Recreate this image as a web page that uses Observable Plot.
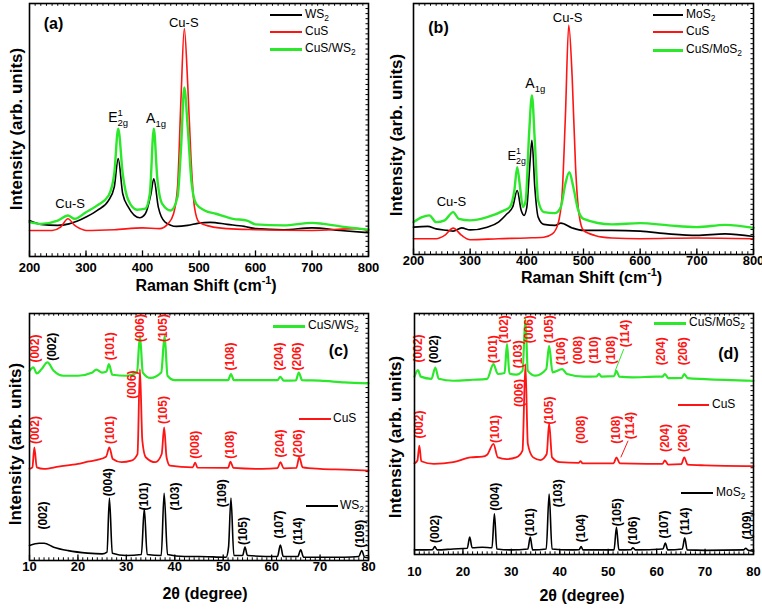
<!DOCTYPE html>
<html>
<head>
<meta charset="utf-8">
<script src="https://cdn.jsdelivr.net/npm/d3@7"></script>
<script src="https://cdn.jsdelivr.net/npm/@observablehq/plot@0.6"></script>
<style>
  html, body { margin: 0; padding: 0; background: #fff; }
  #fig { position: relative; width: 762px; height: 609px; overflow: hidden; background: #fff;
         font-family: "Liberation Sans", Arial, sans-serif; }
  .pane { position: absolute; }
  .lg-line { position: absolute; height: 2px; }
  .lg-text { position: absolute; font-size: 12px; line-height: 14px; color: #000; white-space: nowrap; }
  .lg-text sub { font-size: 70%; vertical-align: -3px; line-height: 0; }
</style>
</head>
<body>
<div id="fig"></div>
<script>
// ---------------- DATA ----------------
// Raman (a): x = Raman shift (cm-1), y = intensity (arb., 0-100 frame units)
const ramanTicks = [200, 300, 400, 500, 600, 700, 800];
const aWS2 = [[200,14.2],[220,12.7],[250,12.3],[270,12.9],[285,14.0],[300,15.6],[320,18.2],[340,22.2],[350,27.4],[357,38.7],[365,24.8],[375,19.5],[395,15.3],[405,16.9],[415,24.8],[420,30.7],[428,19.5],[440,13.6],[460,11.9],[480,12.3],[500,13.2],[520,13.5],[550,12.7],[580,11.9],[600,11.0],[650,10.6],[700,11.3],[750,10.3],[800,9.4]];
const aCuS = [[200,10.3],[240,10.3],[255,11.6],[268,14.9],[280,12.3],[290,11.0],[300,10.3],[350,10.6],[400,11.3],[430,11.0],[445,12.9],[455,16.9],[462,27.4],[468,61.7],[474,90.1],[480,68.3],[486,38.0],[492,19.5],[500,13.6],[520,11.9],[550,11.0],[600,10.6],[700,10.3],[780,11.0],[800,10.3]];
const aCuSWS2 = [[200,13.6],[220,12.9],[250,14.2],[268,16.2],[280,14.9],[300,17.5],[320,20.2],[340,24.1],[350,32.7],[357,50.5],[365,32.7],[375,22.2],[390,18.5],[405,18.9],[413,24.8],[420,50.5],[426,31.4],[435,20.8],[450,18.2],[462,23.5],[468,42.0],[474,66.8],[480,51.2],[487,28.8],[495,20.8],[510,18.2],[530,16.9],[560,14.9],[585,14.2],[600,12.7],[650,12.3],[700,13.3],[720,12.9],[760,11.6],[800,10.6]];
const aNotes = [["Cu-S",473,92.5,13],["E^{1}_{2g}",357,55,14],["A_{1g}",424,54.5,14],["Cu-S",272,21,13]];

// Raman (b)
const bMoS2 = [[200,10.9],[225,11.2],[240,10.2],[260,9.6],[270,9.3],[285,10.6],[300,9.8],[330,10.9],[350,12.9],[365,16.2],[375,18.9],[383,25.5],[390,17.6],[395,15.6],[400,18.9],[405,34.8],[409,45.5],[414,26.9],[420,14.9],[430,12.0],[450,11.6],[460,12.5],[480,10.6],[500,9.6],[550,9.6],[600,9.3],[650,8.2],[700,7.6],[750,8.2],[800,7.2]];
const bCuS = [[200,6.3],[240,6.3],[255,7.6],[270,10.5],[285,7.6],[300,5.9],[350,6.3],[400,6.6],[430,6.9],[445,8.2],[455,12.2],[462,22.9],[468,54.8],[474,91.4],[480,70.7],[486,34.8],[492,16.2],[500,9.6],[520,7.6],[550,6.6],[600,6.3],[700,6.6],[800,6.3]];
const bCuSMoS2 = [[200,12.9],[215,14.9],[228,15.6],[240,12.9],[255,13.6],[270,16.9],[280,14.2],[300,13.6],[330,14.9],[360,17.6],[370,18.9],[378,25.5],[383,34.8],[388,26.9],[393,18.9],[398,21.5],[404,48.1],[409,63.4],[414,45.5],[420,21.5],[430,16.9],[450,16.5],[460,18.9],[468,28.2],[475,32.8],[482,26.9],[490,18.2],[500,14.2],[550,12.0],[600,12.5],[650,11.6],[700,10.9],[750,11.8],[800,10.6]];
const bNotes = [["Cu-S",472,94.4,13],["A_{1g}",415,68.1,14],["E^{1}_{2g}",382,39.4,13],["Cu-S",267,20.8,13]];

// XRD (c): x = 2θ (degree)
const xrdTicks = [10, 20, 30, 40, 50, 60, 70, 80];
const cWS2 = [[10,6.1],[12,7.0],[13,7.0],[15,5.4],[18,4.0],[22,3.0],[25,2.7],[26,3.4],[26.5,25.3],[27.1,2.9],[30,2.0],[33.1,2.4],[33.7,20.9],[34.3,2.4],[37.2,2.0],[37.8,27.2],[38.5,2.4],[42,1.6],[45,1.6],[50.6,1.3],[51.1,5.4],[51.6,25.3],[52.2,2.0],[54,2.0],[54.5,5.4],[55,2.0],[61.2,1.6],[61.8,6.3],[62.4,1.6],[65.4,1.6],[66,4.3],[66.6,1.3],[70,1.3],[75,1.3],[78,1.6],[78.6,4.0],[79.2,1.3],[80,1.1]];
const cCuS = [[10,37.1],[10.6,37.7],[11,45.8],[11.5,37.7],[13,37.1],[16,38.0],[20,39.1],[22,40.0],[24,40.7],[25.8,42.0],[26.5,45.8],[27.2,41.1],[29,39.8],[31,40.4],[32.3,43.1],[32.8,77.5],[33.3,48.5],[34,41.8],[36,39.8],[37.3,43.1],[37.8,53.9],[38.3,41.8],[39,38.4],[43.7,37.7],[44.2,39.6],[44.7,37.6],[51,37.5],[51.5,40.0],[52.1,37.5],[58,37.1],[61.2,37.4],[61.8,39.8],[62.5,37.3],[65.1,37.5],[65.7,41.8],[66.4,37.7],[70,37.1],[75,36.8],[80,36.4]];
const cCuSWS2 = [[10,76.8],[10.8,78.2],[11.5,75.7],[12.5,77.5],[13.7,80.2],[15,76.8],[17,74.8],[20,74.8],[23,76.1],[23.8,77.3],[25,76.1],[25.9,76.5],[26.4,79.5],[27.1,75.2],[30,74.8],[32.2,76.1],[32.8,91.0],[33.4,76.1],[35,73.9],[37.2,76.1],[37.9,91.0],[38.5,74.8],[40,73.0],[45,73.0],[51,73.0],[51.6,75.5],[52.2,73.0],[58,73.0],[61.2,73.0],[61.8,74.4],[62.5,72.8],[65,72.9],[65.6,76.1],[66.3,73.0],[70,72.8],[75,72.1],[80,71.7]];
// [label, 2θ, label-centre intensity, phase]
const cHkl = [
  ["(002)",11.2,85.8,"CuS"],["(002)",14.6,86.5,"WS2"],["(101)",26.7,86.7,"CuS"],["(006)",32.8,94.1,"CuS"],["(105)",37.7,94.1,"CuS"],["(108)",51.4,82.6,"CuS"],["(204)",61.6,82.6,"CuS"],["(206)",65.2,82.6,"CuS"],
  ["(002)",11.2,52.8,"CuS"],["(101)",26.7,52.8,"CuS"],["(006)",31.1,71.2,"CuS"],["(105)",37.7,60.9,"CuS"],["(008)",44.2,46.9,"CuS"],["(108)",51.4,46.9,"CuS"],["(204)",61.8,47.4,"CuS"],["(206)",65.5,47.4,"CuS"],
  ["(002)",12.9,18.2,"WS2"],["(004)",26.3,31.7,"WS2"],["(101)",33.7,25.9,"WS2"],["(103)",40.1,25.9,"WS2"],["(109)",49.7,27.2,"WS2"],["(105)",54.2,11.9,"WS2"],["(107)",61.6,14.6,"WS2"],["(114)",65.4,11.9,"WS2"],["(109)",78.3,10.8,"WS2"]
];

// XRD (d)
const dMoS2 = [[10,1.9],[13.7,2.0],[14.2,3.3],[14.7,1.9],[18,2.3],[20.9,2.6],[21.4,7.2],[21.9,2.8],[24,3.0],[26,2.8],[26.5,16.9],[27,2.3],[30,1.9],[33.4,2.3],[33.9,7.2],[34.4,1.9],[37.2,2.3],[37.8,25.1],[38.4,2.3],[42,1.9],[44,2.0],[44.4,3.3],[44.8,1.9],[51.2,1.9],[51.7,11.3],[52.2,1.9],[54.7,2.0],[55.1,2.8],[55.6,1.9],[61.3,2.3],[61.8,4.7],[62.3,1.9],[65.3,2.3],[65.8,6.9],[66.3,1.9],[70,1.7],[78,1.9],[78.4,2.6],[78.8,1.9],[80,1.4]];
const dCuS = [[10,37.8],[10.6,39.0],[11,45.2],[11.4,38.7],[14,37.6],[18,38.3],[21.6,40.3],[24,40.6],[25,41.4],[26.3,45.9],[27.2,40.3],[29,39.6],[31,40.3],[32.3,43.1],[32.9,79.0],[33.4,45.9],[34.5,40.3],[36,39.2],[37.3,41.7],[37.8,54.4],[38.4,40.3],[40,38.3],[43.9,38.0],[44.3,38.7],[44.7,37.8],[51.1,37.8],[51.7,40.3],[52.4,37.8],[58,37.6],[61.2,37.6],[61.7,39.0],[62.4,37.3],[65.1,37.5],[65.7,40.3],[66.4,37.3],[70,37.0],[80,36.7]];
const dCuSMoS2 = [[10,73.8],[10.7,76.5],[11.3,73.8],[13.5,72.9],[14.3,77.6],[15,72.9],[18,72.1],[22,72.5],[25,72.9],[26.3,79.0],[27.2,74.9],[28.6,75.3],[29.1,87.3],[29.6,75.1],[31,74.6],[32.3,76.2],[32.9,97.7],[33.4,76.2],[35,74.2],[37.2,76.9],[37.8,86.6],[38.5,75.6],[40.5,76.9],[41.5,74.9],[45,73.8],[47.6,73.9],[48.1,75.0],[48.6,73.8],[51.2,74.0],[51.7,76.2],[52.3,73.8],[55,73.5],[60,73.8],[61.2,73.8],[61.7,74.9],[62.4,73.2],[65.2,73.3],[65.7,74.9],[66.4,73.2],[70,72.8],[80,72.1]];
const dHkl = [
  ["(002)",10.7,85.5,"CuS"],["(002)",14.1,85.2,"MoS2"],["(101)",26.2,85.2,"CuS"],["(102)",28.6,93.5,"CuS"],["(103)",31.4,83.1,"CuS"],["(006)",33.6,93.5,"CuS"],["(105)",37.9,93.5,"CuS"],["(106)",40.3,84.3,"CuS"],["(008)",43.8,84.8,"CuS"],["(110)",47.2,84.8,"CuS"],["(108)",50.7,84.8,"CuS"],["(114)",53.4,91.7,"CuS"],["(204)",61.0,84.3,"CuS"],["(206)",65.5,84.3,"CuS"],
  ["(002)",11.0,53.9,"CuS"],["(101)",26.6,52.1,"CuS"],["(006)",31.7,67.0,"CuS"],["(105)",37.9,59.7,"CuS"],["(008)",44.5,51.8,"CuS"],["(108)",51.7,51.8,"CuS"],["(114)",54.5,53.5,"CuS"],["(204)",61.7,48.3,"CuS"],["(206)",65.5,48.3,"CuS"],
  ["(002)",14.3,10.6,"MoS2"],["(004)",26.7,24.0,"MoS2"],["(101)",33.8,13.4,"MoS2"],["(103)",39.7,25.4,"MoS2"],["(104)",44.5,10.9,"MoS2"],["(105)",51.8,17.5,"MoS2"],["(106)",55.2,9.9,"MoS2"],["(107)",61.6,12.4,"MoS2"],["(114)",65.9,13.8,"MoS2"],["(109)",78.6,12.0,"MoS2"]
];
// leader lines for (114): [x1, y1, x2, y2, trace]
const dLeaders = [[53.2,85.2,51.4,76.0,"CuS/MoS2"],[54.1,47.2,52.6,40.3,"CuS"]];

// ---------------- RENDERING ----------------
const RED = "#ff1414", GREEN = "#2be82b", BLACK = "#000000";
const FONT = "'Liberation Sans', Arial, Helvetica, sans-serif";
const fig = document.getElementById("fig");

function richify(root) {
  root.querySelectorAll("text").forEach(t => {
    const s = t.textContent;
    if (!/[_^]\{/.test(s) || t.querySelector("tspan")) return;
    const fs = parseFloat(getComputedStyle(t).fontSize) || 12;
    t.textContent = "";
    const re = /([_^])\{([^}]*)\}|([^_^]+)/g;
    let m, shift = 0, lastSup = null;
    while ((m = re.exec(s))) {
      const ts = document.createElementNS("http://www.w3.org/2000/svg", "tspan");
      let target = 0, dx = 0;
      if (m[3] !== undefined) { ts.textContent = m[3]; lastSup = null; }
      else {
        ts.textContent = m[2];
        ts.setAttribute("font-size", (fs * 0.68).toFixed(2));
        if (m[1] === "^") target = -0.42 * fs;
        else { target = 0.3 * fs; if (lastSup) dx = -lastSup.getComputedTextLength(); }
      }
      ts.setAttribute("dy", (target - shift).toFixed(2));
      if (dx) ts.setAttribute("dx", dx.toFixed(2));
      shift = target;
      t.appendChild(ts);
      if (m[1] === "^") lastSup = ts;
    }
  });
}

function panel(o) {
  const [x0, x1] = o.xDomain;
  const yMinor = d3.range(2, 100, 2);
  const span = x1 - x0;
  const px = span / (o.width - o.mL - o.mR); // data units per pixel
  const marks = [
    Plot.ruleX(o.xMinor, {y1: 0, y2: 1.1, stroke: "black", strokeWidth: 1}),
    Plot.ruleX(o.xTicks, {y1: 0, y2: 2.2, stroke: "black", strokeWidth: 1.3}),
    Plot.ruleX(o.xMinor, {y1: 100, y2: 98.9, stroke: "black", strokeWidth: 1}),
    Plot.ruleY(yMinor, {x1: x1, x2: x1 - 2.5 * px, stroke: "black", strokeWidth: 1}),
  ];
  for (const s of o.series) {
    marks.push(Plot.line(s.data, {x: d => d[0], y: d => d[1], stroke: s.color, strokeWidth: s.width, curve: "monotone-x"}));
  }
  marks.push(...(o.extra || []));
  marks.push(
    Plot.frame({stroke: "black", strokeWidth: 1.6}),
    Plot.text([o.xTitle], {frameAnchor: "bottom", textAnchor: "middle", lineAnchor: "middle", dx: o.xTitleDx, dy: o.xTitleDy, fontSize: 16, fontWeight: "bold"}),
    Plot.text(["Intensity (arb. units)"], {frameAnchor: "left", textAnchor: "middle", lineAnchor: "middle", rotate: -90, dx: o.yTitleDx, dy: o.yTitleDy, fontSize: 17, fontWeight: "bold"}),
    Plot.text([o.tag], {frameAnchor: o.tagAnchor, dx: o.tagDx, dy: o.tagDy, textAnchor: "middle", lineAnchor: "middle", fontSize: 16, fontWeight: "bold"})
  );
  const svg = Plot.plot({
    width: o.width, height: o.height,
    marginLeft: o.mL, marginRight: o.mR, marginTop: o.mT, marginBottom: o.mB,
    x: {domain: o.xDomain, ticks: o.xTicks, tickSize: 0, tickPadding: o.tickPadding, label: null, tickFormat: d => String(d)},
    y: {domain: [0, 100], axis: null},
    style: {fontFamily: FONT, fontSize: "13px", fontWeight: "bold", color: "black", background: "transparent", overflow: "visible"},
    marks
  });
  const div = document.createElement("div");
  div.className = "pane";
  div.style.left = o.left + "px";
  div.style.top = o.top + "px";
  div.appendChild(svg);
  fig.appendChild(div);
  richify(svg);
}

function notes(arr) {
  return [
    Plot.text(arr.filter(d => d[3] === 13), {x: d => d[1], y: d => d[2], text: d => d[0], fontSize: 13, fontWeight: "normal", fill: "black"}),
    Plot.text(arr.filter(d => d[3] === 14), {x: d => d[1], y: d => d[2], text: d => d[0], fontSize: 14, fontWeight: "normal", fill: "black"})
  ];
}
function hkl(arr) {
  return [
    Plot.text(arr.filter(d => d[3] === "CuS"), {x: d => d[1], y: d => d[2], text: d => d[0], rotate: -90, fontSize: 12, fontWeight: "bold", fill: RED}),
    Plot.text(arr.filter(d => d[3] !== "CuS"), {x: d => d[1], y: d => d[2], text: d => d[0], rotate: -90, fontSize: 12, fontWeight: "bold", fill: BLACK})
  ];
}

function legend(items) {
  for (const it of items) {
    const l = document.createElement("div");
    l.className = "lg-line";
    l.style.left = it.x1 + "px"; l.style.width = (it.x2 - it.x1) + "px";
    l.style.top = (it.y - 1) + "px"; l.style.background = it.color;
    if (it.color === GREEN) { l.style.height = "3px"; l.style.top = (it.y - 1.5) + "px"; }
    fig.appendChild(l);
    const t = document.createElement("div");
    t.className = "lg-text";
    t.style.left = it.tx + "px"; t.style.top = (it.y - 8) + "px";
    t.innerHTML = it.html;
    fig.appendChild(t);
  }
}

// (a)
panel({
  left: 0, top: 0, width: 381, height: 300, mL: 29, mR: 13, mT: 3, mB: 44,
  xDomain: [200, 800], xTicks: ramanTicks, xMinor: d3.range(210, 800, 10), tickPadding: 6,
  series: [
    {data: aWS2, color: BLACK, width: 1.6},
    {data: aCuS, color: RED, width: 1.6},
    {data: aCuSWS2, color: GREEN, width: 2.4}
  ],
  extra: notes(aNotes),
  xTitle: "Raman Shift (cm^{-1})", xTitleDx: 7, xTitleDy: 29,
  yTitleDx: -13, yTitleDy: -1,
  tag: "(a)", tagAnchor: "top-left", tagDx: 24, tagDy: 20
});
// (b)
panel({
  left: 381, top: 0, width: 381, height: 300, mL: 32, mR: 9, mT: 3, mB: 46,
  xDomain: [200, 800], xTicks: ramanTicks, xMinor: d3.range(210, 800, 10), tickPadding: 1,
  series: [
    {data: bMoS2, color: BLACK, width: 1.6},
    {data: bCuS, color: RED, width: 1.6},
    {data: bCuSMoS2, color: GREEN, width: 2.4}
  ],
  extra: notes(bNotes),
  xTitle: "Raman Shift (cm^{-1})", xTitleDx: 8, xTitleDy: 23,
  yTitleDx: -17, yTitleDy: 6,
  tag: "(b)", tagAnchor: "top-left", tagDx: 25, tagDy: 24
});
// (c)
panel({
  left: 0, top: 300, width: 381, height: 309, mL: 29, mR: 13, mT: 13, mB: 49,
  xDomain: [10, 80], xTicks: xrdTicks, xMinor: d3.range(11, 80, 1), tickPadding: 1,
  series: [
    {data: cCuSWS2, color: GREEN, width: 2.2},
    {data: cCuS, color: RED, width: 1.8},
    {data: cWS2, color: BLACK, width: 1.6}
  ],
  extra: hkl(cHkl),
  xTitle: "2θ (degree)", xTitleDx: 6, xTitleDy: 33,
  yTitleDx: -14, yTitleDy: 7,
  tag: "(c)", tagAnchor: "top-right", tagDx: -30, tagDy: 37
});
// (d)
panel({
  left: 381, top: 300, width: 381, height: 309, mL: 33, mR: 9, mT: 13, mB: 55,
  xDomain: [10, 80], xTicks: xrdTicks, xMinor: d3.range(11, 80, 1), tickPadding: 12,
  series: [
    {data: dCuSMoS2, color: GREEN, width: 2.2},
    {data: dCuS, color: RED, width: 1.8},
    {data: dMoS2, color: BLACK, width: 1.6}
  ],
  extra: [
    Plot.link(dLeaders.filter(d => d[4] === "CuS/MoS2"), {x1: d => d[0], y1: d => d[1], x2: d => d[2], y2: d => d[3], stroke: GREEN, strokeWidth: 1}),
    Plot.link(dLeaders.filter(d => d[4] === "CuS"), {x1: d => d[0], y1: d => d[1], x2: d => d[2], y2: d => d[3], stroke: RED, strokeWidth: 1}),
    ...hkl(dHkl)
  ],
  xTitle: "2θ (degree)", xTitleDx: -2, xTitleDy: 41,
  yTitleDx: -19, yTitleDy: 3,
  tag: "(d)", tagAnchor: "top-right", tagDx: -25, tagDy: 40
});

legend([
  {html: "WS<sub>2</sub>", color: BLACK, x1: 270, x2: 302, y: 15, tx: 305},
  {html: "CuS", color: RED, x1: 270, x2: 302, y: 32, tx: 305},
  {html: "CuS/WS<sub>2</sub>", color: GREEN, x1: 270, x2: 302, y: 49, tx: 305},
  {html: "MoS<sub>2</sub>", color: BLACK, x1: 653, x2: 683, y: 15, tx: 686},
  {html: "CuS", color: RED, x1: 653, x2: 683, y: 32, tx: 686},
  {html: "CuS/MoS<sub>2</sub>", color: GREEN, x1: 653, x2: 683, y: 50, tx: 686},
  {html: "CuS/WS<sub>2</sub>", color: GREEN, x1: 273, x2: 305, y: 326, tx: 308},
  {html: "CuS", color: RED, x1: 299, x2: 331, y: 419, tx: 333},
  {html: "WS<sub>2</sub>", color: BLACK, x1: 306, x2: 338, y: 506, tx: 340},
  {html: "CuS/MoS<sub>2</sub>", color: GREEN, x1: 654, x2: 686, y: 323, tx: 689},
  {html: "CuS", color: RED, x1: 678, x2: 709, y: 405, tx: 712},
  {html: "MoS<sub>2</sub>", color: BLACK, x1: 681, x2: 713, y: 493, tx: 716}
]);
</script>
</body>
</html>
